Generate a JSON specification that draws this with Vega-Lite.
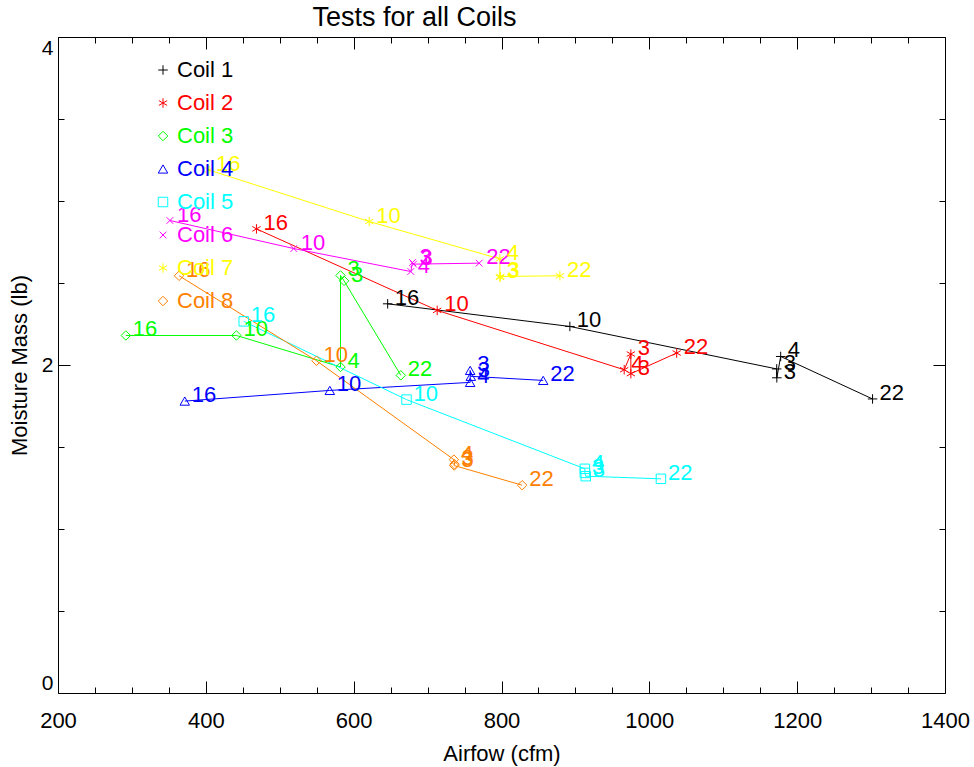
{
  "$schema": "https://vega.github.io/schema/vega-lite/v6.json",
  "autosize": {"type": "none"},
  "width": 887,
  "height": 656,
  "padding": {"left": 58, "top": 37, "right": 29, "bottom": 74},
  "config": {
    "view": {"stroke": "black", "strokeWidth": 1},
    "font": "Liberation Sans",
    "axis": {"domain": false, "grid": false, "labelFont": "Liberation Sans", "titleFont": "Liberation Sans", "labelColor": "black", "titleColor": "black", "tickColor": "black", "titleFontWeight": "normal"},
    "legend": {"orient": "none", "legendX": 94, "legendY": 22, "title": null, "padding": 0, "labelFontSize": 22, "labelFont": "Liberation Sans", "symbolSize": 90, "symbolStrokeWidth": 1, "labelOffset": 3, "rowPadding": 11}
  },
  "title": {"text": "Tests for all Coils", "anchor": "middle", "dx": -87, "offset": 5, "fontSize": 27, "fontWeight": "normal", "font": "Liberation Sans", "color": "black"},
  "data": {"values": [
    {"Coil": "Coil 1", "Order": 1, "Label": "16", "Airflow": 646, "Moisture": 2.373},
    {"Coil": "Coil 1", "Order": 2, "Label": "10", "Airflow": 892.5, "Moisture": 2.235},
    {"Coil": "Coil 1", "Order": 3, "Label": "3", "Airflow": 1172.3, "Moisture": 1.976},
    {"Coil": "Coil 1", "Order": 4, "Label": "3", "Airflow": 1172.5, "Moisture": 1.922},
    {"Coil": "Coil 1", "Order": 5, "Label": "4", "Airflow": 1177.7, "Moisture": 2.052},
    {"Coil": "Coil 1", "Order": 6, "Label": "22", "Airflow": 1302, "Moisture": 1.793},
    {"Coil": "Coil 2", "Order": 1, "Label": "16", "Airflow": 468.5, "Moisture": 2.83},
    {"Coil": "Coil 2", "Order": 2, "Label": "10", "Airflow": 713, "Moisture": 2.333},
    {"Coil": "Coil 2", "Order": 3, "Label": "4", "Airflow": 966, "Moisture": 1.971},
    {"Coil": "Coil 2", "Order": 4, "Label": "3", "Airflow": 975, "Moisture": 2.067},
    {"Coil": "Coil 2", "Order": 5, "Label": "3", "Airflow": 975, "Moisture": 1.947},
    {"Coil": "Coil 2", "Order": 6, "Label": "22", "Airflow": 1037, "Moisture": 2.073},
    {"Coil": "Coil 3", "Order": 1, "Label": "16", "Airflow": 291.8, "Moisture": 2.18},
    {"Coil": "Coil 3", "Order": 2, "Label": "10", "Airflow": 441.4, "Moisture": 2.18},
    {"Coil": "Coil 3", "Order": 3, "Label": "4", "Airflow": 582.2, "Moisture": 1.988},
    {"Coil": "Coil 3", "Order": 4, "Label": "3", "Airflow": 582.2, "Moisture": 2.546},
    {"Coil": "Coil 3", "Order": 5, "Label": "3", "Airflow": 587, "Moisture": 2.513},
    {"Coil": "Coil 3", "Order": 6, "Label": "22", "Airflow": 663.8, "Moisture": 1.937},
    {"Coil": "Coil 4", "Order": 1, "Label": "16", "Airflow": 371.5, "Moisture": 1.78},
    {"Coil": "Coil 4", "Order": 2, "Label": "10", "Airflow": 567.7, "Moisture": 1.845},
    {"Coil": "Coil 4", "Order": 3, "Label": "4", "Airflow": 757.6, "Moisture": 1.894},
    {"Coil": "Coil 4", "Order": 4, "Label": "3", "Airflow": 757.6, "Moisture": 1.967},
    {"Coil": "Coil 4", "Order": 5, "Label": "3", "Airflow": 758.5, "Moisture": 1.931},
    {"Coil": "Coil 4", "Order": 6, "Label": "22", "Airflow": 856.4, "Moisture": 1.906},
    {"Coil": "Coil 5", "Order": 1, "Label": "16", "Airflow": 451.3, "Moisture": 2.266},
    {"Coil": "Coil 5", "Order": 2, "Label": "10", "Airflow": 671.5, "Moisture": 1.789},
    {"Coil": "Coil 5", "Order": 3, "Label": "4", "Airflow": 912.8, "Moisture": 1.367},
    {"Coil": "Coil 5", "Order": 4, "Label": "3", "Airflow": 912.8, "Moisture": 1.342},
    {"Coil": "Coil 5", "Order": 5, "Label": "3", "Airflow": 914, "Moisture": 1.322},
    {"Coil": "Coil 5", "Order": 6, "Label": "22", "Airflow": 1015.7, "Moisture": 1.306},
    {"Coil": "Coil 6", "Order": 1, "Label": "16", "Airflow": 351.4, "Moisture": 2.881},
    {"Coil": "Coil 6", "Order": 2, "Label": "10", "Airflow": 519, "Moisture": 2.71},
    {"Coil": "Coil 6", "Order": 3, "Label": "4", "Airflow": 677.3, "Moisture": 2.57},
    {"Coil": "Coil 6", "Order": 4, "Label": "3", "Airflow": 679.6, "Moisture": 2.625},
    {"Coil": "Coil 6", "Order": 5, "Label": "3", "Airflow": 681, "Moisture": 2.615},
    {"Coil": "Coil 6", "Order": 6, "Label": "22", "Airflow": 769.8, "Moisture": 2.621},
    {"Coil": "Coil 7", "Order": 1, "Label": "16", "Airflow": 404.3, "Moisture": 3.189},
    {"Coil": "Coil 7", "Order": 2, "Label": "10", "Airflow": 621, "Moisture": 2.875},
    {"Coil": "Coil 7", "Order": 3, "Label": "4", "Airflow": 797.8, "Moisture": 2.647},
    {"Coil": "Coil 7", "Order": 4, "Label": "3", "Airflow": 797.8, "Moisture": 2.534},
    {"Coil": "Coil 7", "Order": 5, "Label": "3", "Airflow": 798.5, "Moisture": 2.54},
    {"Coil": "Coil 7", "Order": 6, "Label": "22", "Airflow": 879, "Moisture": 2.544},
    {"Coil": "Coil 8", "Order": 1, "Label": "16", "Airflow": 363.8, "Moisture": 2.544},
    {"Coil": "Coil 8", "Order": 2, "Label": "10", "Airflow": 549.7, "Moisture": 2.026},
    {"Coil": "Coil 8", "Order": 3, "Label": "4", "Airflow": 735.6, "Moisture": 1.423},
    {"Coil": "Coil 8", "Order": 4, "Label": "3", "Airflow": 736.5, "Moisture": 1.395},
    {"Coil": "Coil 8", "Order": 5, "Label": "3", "Airflow": 736, "Moisture": 1.387},
    {"Coil": "Coil 8", "Order": 6, "Label": "22", "Airflow": 828, "Moisture": 1.267}
  ]},
  "resolve": {"axis": {"x": "independent", "y": "independent"}, "legend": {"color": "independent", "shape": "independent"}},
  "layer": [
    {
      "mark": {"type": "line", "strokeWidth": 1},
      "encoding": {
        "x": {"field": "Airflow", "type": "quantitative", "scale": {"domain": [200, 1400], "nice": false, "zero": false},
          "axis": {"orient": "bottom", "values": [200, 400, 600, 800, 1000, 1200, 1400], "format": "d", "ticks": false, "labelFontSize": 22, "labelFlush": false, "labelPadding": 17, "labelOverlap": false, "title": "Airfow (cfm)", "titleFontSize": 22, "titlePadding": 12}},
        "y": {"field": "Moisture", "type": "quantitative", "scale": {"domain": [0, 4], "nice": false, "zero": false},
          "axis": {"orient": "left", "values": [0, 2, 4], "ticks": false, "labelFontSize": 21, "labelPadding": 5, "labelFlush": true, "labelOverlap": false, "title": "Moisture Mass (lb)", "titleFontSize": 22, "titlePadding": 10}},
        "color": {"field": "Coil", "type": "nominal", "scale": {"domain": ["Coil 1", "Coil 2", "Coil 3", "Coil 4", "Coil 5", "Coil 6", "Coil 7", "Coil 8"], "range": ["#000000", "#ff0000", "#00ff00", "#0000ff", "#00ffff", "#ff00ff", "#ffff00", "#ff8000"]}, "legend": null},
        "detail": {"field": "Coil"},
        "order": {"field": "Order", "type": "quantitative"}
      }
    },
    {
      "mark": {"type": "point", "filled": false, "strokeWidth": 1, "size": 90, "opacity": 1},
      "encoding": {
        "x": {"field": "Airflow", "type": "quantitative",
          "axis": {"orient": "bottom", "values": [200, 250, 300, 350, 400, 450, 500, 550, 600, 650, 700, 750, 800, 850, 900, 950, 1000, 1050, 1100, 1150, 1200, 1250, 1300, 1350, 1400], "labels": false, "title": null, "tickSize": {"condition": {"test": "datum.value % 200 === 0", "value": -12}, "value": -6}}},
        "y": {"field": "Moisture", "type": "quantitative",
          "axis": {"orient": "left", "values": [0, 0.5, 1, 1.5, 2, 2.5, 3, 3.5, 4], "labels": false, "title": null, "tickSize": {"condition": {"test": "datum.value % 2 === 0", "value": -12}, "value": -6}}},
        "color": {"field": "Coil", "type": "nominal",
          "legend": {"labelColor": {"expr": "scale('color', datum.value)"}, "encode": {"labels": {"update": {"fill": {"scale": "color", "field": "value"}}}}}},
        "shape": {"field": "Coil", "type": "nominal",
          "scale": {"domain": ["Coil 1", "Coil 2", "Coil 3", "Coil 4", "Coil 5", "Coil 6", "Coil 7", "Coil 8"], "range": ["M-1,0L1,0M0,-1L0,1", "M0,-1L0,1M-0.87,-0.5L0.87,0.5M-0.87,0.5L0.87,-0.5", "diamond", "triangle-up", "square", "M-0.7,-0.7L0.7,0.7M-0.7,0.7L0.7,-0.7", "M0,-1L0,1M-0.87,-0.5L0.87,0.5M-0.87,0.5L0.87,-0.5", "diamond"]},
          "legend": {"labelColor": {"expr": "scale('color', datum.value)"}, "encode": {"labels": {"update": {"fill": {"scale": "color", "field": "value"}}}}}}
      }
    },
    {
      "mark": {"type": "text", "align": "left", "baseline": "alphabetic", "dx": 7, "dy": 1, "fontSize": 22, "font": "Liberation Sans"},
      "encoding": {
        "x": {"field": "Airflow", "type": "quantitative",
          "axis": {"orient": "top", "values": [200, 250, 300, 350, 400, 450, 500, 550, 600, 650, 700, 750, 800, 850, 900, 950, 1000, 1050, 1100, 1150, 1200, 1250, 1300, 1350, 1400], "labels": false, "title": null, "tickSize": {"condition": {"test": "datum.value % 200 === 0", "value": -12}, "value": -6}}},
        "y": {"field": "Moisture", "type": "quantitative",
          "axis": {"orient": "right", "values": [0, 0.5, 1, 1.5, 2, 2.5, 3, 3.5, 4], "labels": false, "title": null, "tickSize": {"condition": {"test": "datum.value % 2 === 0", "value": -12}, "value": -6}}},
        "text": {"field": "Label"},
        "color": {"field": "Coil", "type": "nominal", "legend": null}
      }
    }
  ]
}
